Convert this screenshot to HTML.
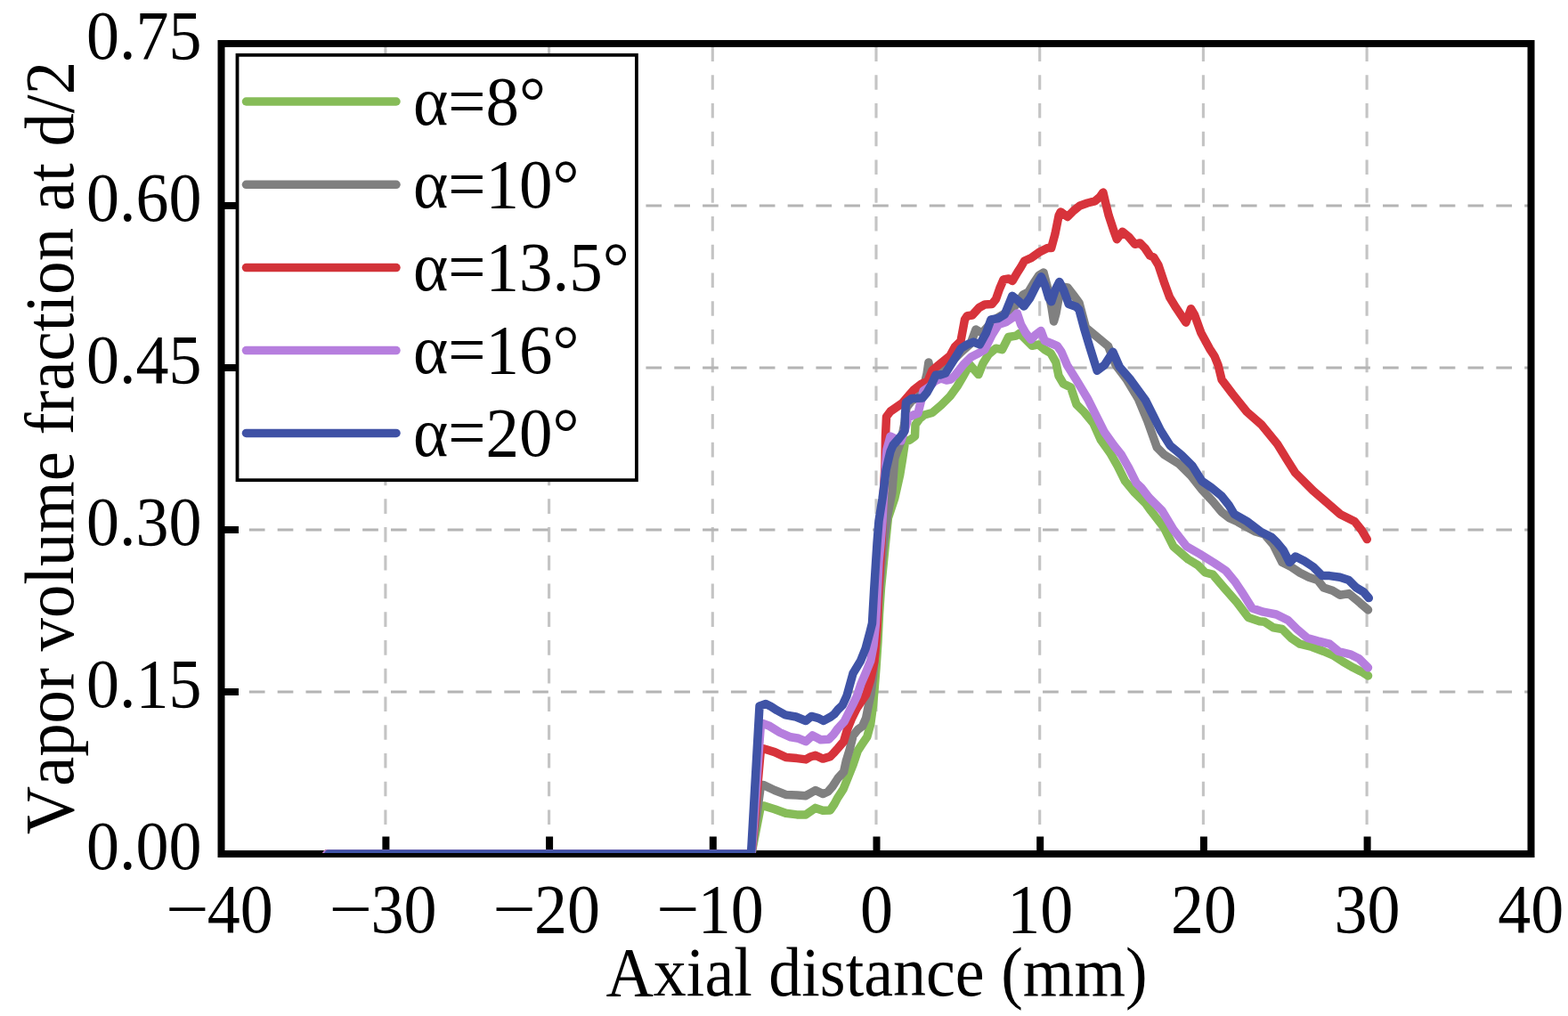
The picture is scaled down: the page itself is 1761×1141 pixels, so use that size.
<!DOCTYPE html>
<html><head><meta charset="utf-8"><title>Vapor volume fraction chart</title>
<style>html,body{margin:0;padding:0;background:#fff;overflow:hidden}svg{display:block}</style>
</head><body>
<svg width="1761" height="1141" viewBox="0 0 1761 1141" style="font-kerning:none">
<rect width="1761" height="1141" fill="#fff"/>
<path d="M432.9 52.5V959M616.6 52.5V959M800.3 52.5V959M984.0 52.5V959M1167.7 52.5V959M1351.4 52.5V959M1535.1 52.5V959" stroke="#c4c4c4" stroke-width="3.1" stroke-dasharray="16.6 15.14" fill="none"/>
<path d="M248 777.0H1719M248 595.0H1719M248 413.0H1719M248 231.0H1719" stroke="#b4b4b4" stroke-width="2.8" stroke-dasharray="17.7 14.13" fill="none"/>
<rect x="248.5" y="49" width="1471" height="910" fill="none" stroke="#000" stroke-width="8"/>
<path d="M433.4 959V939.5M617.1 959V939.5M800.8 959V939.5M984.5 959V939.5M1168.2 959V939.5M1351.9 959V939.5M1535.6 959V939.5M248.5 777.0H268M248.5 595.0H268M248.5 413.0H268M248.5 231.0H268" stroke="#000" stroke-width="8" fill="none"/>
<clipPath id="pc"><rect x="248.5" y="49" width="1471" height="909"/></clipPath>
<g clip-path="url(#pc)"><g fill="none" stroke-width="9.5" stroke-linejoin="round" stroke-linecap="round"><path d="M367.0 959.0 844.0 959.0 854.5 904.9 857.5 904.9 870.0 908.7 882.5 913.3 895.0 914.9 905.0 914.9 915.8 907.4 924.1 910.3 932.4 909.9 937.0 903.0 941.0 895.6 947.0 886.4 952.8 872.0 958.1 858.8 963.4 843.0 968.6 835.2 973.9 827.3 977.8 812.9 980.4 793.0 982.0 775.0 984.0 750.0 986.0 720.0 987.5 690.0 989.5 660.0 991.5 640.0 994.0 615.0 997.4 581.8 1004.8 559.4 1010.8 532.6 1013.7 514.7 1016.5 496.0 1022.0 494.0 1027.5 490.0 1028.0 477.0 1033.0 470.0 1038.0 466.0 1047.0 463.5 1057.0 455.0 1067.0 445.0 1075.0 434.0 1082.0 422.0 1089.0 409.4 1098.9 420.6 1104.0 408.0 1110.1 398.2 1118.5 391.2 1125.5 392.6 1132.6 378.5 1141.0 377.1 1145.2 374.3 1152.2 381.3 1159.2 388.3 1166.2 386.9 1173.2 392.6 1180.2 396.8 1185.8 406.6 1189.0 422.0 1194.3 431.0 1202.6 435.1 1208.9 454.1 1217.3 462.5 1227.8 475.1 1236.3 494.0 1246.8 508.7 1255.2 523.4 1263.6 540.3 1274.1 552.9 1286.7 565.5 1292.6 573.6 1307.3 592.6 1317.8 613.6 1334.7 628.3 1345.2 634.6 1353.6 643.0 1362.0 645.1 1374.6 659.9 1389.3 676.7 1402.0 693.5 1414.6 697.7 1420.0 698.2 1430.0 704.8 1440.0 706.5 1450.0 716.5 1460.0 723.2 1473.3 726.5 1486.6 731.5 1498.2 736.5 1508.2 743.1 1519.9 749.8 1529.9 754.8 1536.5 758.9" stroke="#86bc58"/><path d="M367.0 959.0 844.0 959.0 854.5 881.6 857.5 881.6 870.0 887.5 882.5 892.4 895.0 892.9 905.0 893.7 915.8 887.5 924.1 891.6 930.0 889.0 934.9 883.3 941.0 874.0 947.6 866.7 950.2 854.9 954.2 841.8 958.1 826.0 963.4 819.4 968.6 815.5 972.6 806.3 975.2 793.1 978.0 780.0 980.5 760.0 983.0 730.0 985.0 700.0 987.0 670.0 989.5 640.0 992.5 610.0 996.5 580.0 1001.8 553.5 1004.8 514.7 1012.0 495.0 1016.0 475.0 1018.0 458.0 1024.0 450.0 1032.0 446.0 1037.0 436.0 1041.0 420.0 1042.9 407.0 1045.0 420.0 1047.0 430.0 1055.0 422.0 1065.0 410.0 1080.0 395.0 1090.0 386.0 1096.0 370.0 1103.0 374.0 1112.0 364.0 1120.0 357.0 1130.0 351.0 1137.0 347.0 1143.0 340.0 1149.0 331.0 1155.0 328.0 1161.0 318.0 1167.0 309.0 1172.0 306.0 1176.5 323.0 1181.0 345.0 1183.5 361.0 1186.0 352.0 1188.5 338.0 1192.0 322.0 1199.0 323.0 1206.0 332.0 1212.0 340.0 1219.4 367.8 1232.1 378.4 1244.7 388.9 1253.1 409.9 1265.7 426.7 1278.3 447.7 1288.8 473.0 1299.3 502.4 1307.7 510.8 1324.6 521.3 1337.2 533.9 1350.0 550.0 1362.0 563.0 1372.0 575.0 1381.0 582.0 1390.0 586.0 1398.0 590.5 1410.0 597.0 1420.0 600.0 1430.0 611.6 1440.0 631.6 1450.0 636.6 1460.0 643.3 1470.0 648.3 1479.9 651.6 1486.6 659.9 1496.6 663.2 1504.9 668.2 1514.9 666.6 1524.9 674.9 1536.5 684.9" stroke="#808080"/><path d="M367.0 959.0 844.0 959.0 854.5 840.8 857.5 840.8 870.0 844.6 882.5 850.4 895.0 851.6 905.0 852.9 910.0 850.0 915.8 848.3 924.1 852.1 932.4 849.6 936.0 846.0 941.0 840.4 947.6 832.6 951.5 819.4 956.8 806.3 962.0 795.8 967.3 787.9 972.6 780.0 977.7 763.3 982.0 742.3 984.0 720.0 985.3 700.0 986.5 665.0 988.0 640.0 990.0 610.0 992.0 560.0 994.0 522.0 994.5 490.0 995.5 468.0 1000.0 462.0 1013.0 453.0 1026.0 438.0 1035.0 431.0 1042.0 428.0 1047.0 416.0 1053.6 410.4 1066.8 399.8 1072.3 389.7 1079.0 383.0 1083.5 358.9 1086.3 354.7 1091.9 354.0 1099.6 345.5 1106.0 342.0 1114.0 341.5 1118.5 336.0 1122.7 324.0 1127.0 314.0 1133.0 313.0 1137.0 315.5 1143.0 305.4 1146.5 300.0 1150.5 293.0 1158.2 289.7 1168.0 282.7 1176.5 278.5 1180.7 278.5 1184.9 263.1 1189.1 242.1 1191.2 237.9 1198.9 243.5 1205.9 236.5 1212.9 230.9 1221.3 228.0 1229.7 225.9 1235.4 221.0 1238.9 216.1 1241.7 228.0 1245.2 242.1 1250.8 258.9 1254.3 268.7 1260.6 260.3 1267.6 265.9 1274.6 274.3 1280.2 272.9 1285.8 278.5 1291.5 287.0 1295.7 289.0 1301.0 297.7 1308.0 318.7 1313.7 334.1 1320.7 345.4 1331.9 362.2 1337.5 346.8 1341.7 353.8 1348.7 373.4 1358.5 391.6 1364.0 400.0 1368.1 410.1 1372.1 426.3 1384.2 442.4 1400.3 462.5 1416.4 476.6 1434.6 498.8 1444.6 514.9 1454.7 531.0 1474.8 551.2 1489.0 563.3 1505.1 577.4 1521.2 585.4 1529.3 595.5 1535.3 605.6" stroke="#d7333b"/><path d="M367.0 959.0 844.0 959.0 854.5 812.5 856.6 812.5 863.4 814.9 875.7 822.5 888.0 827.8 897.0 829.3 905.0 832.7 912.5 825.9 921.7 830.8 930.9 830.2 936.0 825.0 941.0 818.1 948.3 810.2 952.8 801.0 958.1 790.5 962.3 782.0 967.0 768.0 972.0 756.3 977.7 742.3 981.0 725.0 983.5 700.0 985.5 660.0 987.0 630.0 989.0 610.0 991.0 585.0 993.0 545.0 996.0 505.0 1000.0 490.0 1008.0 494.0 1012.0 495.0 1017.0 480.0 1020.0 469.0 1026.0 466.0 1031.0 464.0 1033.0 456.0 1035.5 446.0 1037.0 439.0 1037.0 439.0 1043.0 435.0 1050.0 428.0 1057.0 425.0 1063.0 427.0 1068.0 426.0 1073.0 421.0 1082.1 409.4 1090.5 401.0 1098.9 396.8 1105.9 392.6 1114.3 375.7 1121.3 364.5 1129.7 361.7 1138.2 356.1 1142.4 351.9 1146.6 364.5 1152.2 374.3 1157.8 381.3 1163.4 375.7 1169.0 371.5 1173.2 382.7 1180.2 385.5 1187.2 388.3 1192.0 395.0 1198.4 409.9 1208.9 426.7 1221.5 447.7 1232.1 468.8 1240.5 485.6 1251.0 500.3 1259.4 510.8 1267.8 525.5 1276.2 542.4 1282.0 548.0 1290.5 558.9 1305.2 573.6 1317.8 594.7 1332.6 613.6 1347.3 622.0 1364.1 632.5 1376.7 640.9 1387.2 653.5 1395.6 666.2 1406.2 683.0 1418.8 687.2 1433.4 690.0 1446.6 696.5 1456.6 706.5 1468.3 716.5 1479.9 719.8 1493.2 723.2 1503.2 731.5 1516.5 734.8 1526.5 739.8 1536.5 749.8" stroke="#b67ede"/><path d="M369.0 959.0 843.5 959.0 853.0 793.0 860.0 790.5 866.0 793.5 872.5 797.7 882.0 802.9 894.0 805.0 905.0 809.5 911.3 804.4 918.6 806.3 925.0 809.4 933.0 805.0 937.0 802.0 941.0 797.0 946.3 791.8 951.0 781.6 958.0 756.3 966.5 742.3 972.1 728.2 977.0 710.0 979.5 700.0 981.5 665.0 983.5 633.0 985.0 610.0 987.0 585.0 991.0 560.0 993.0 545.0 995.0 528.0 1000.0 507.0 1003.0 500.0 1010.0 492.0 1016.0 484.0 1016.5 465.0 1017.5 452.0 1024.0 447.5 1036.0 447.0 1041.0 441.0 1041.0 441.0 1046.0 432.0 1051.0 421.0 1056.0 421.0 1062.0 419.0 1067.0 411.0 1072.0 403.0 1079.3 391.2 1086.3 386.9 1093.3 384.1 1100.3 386.9 1107.3 374.3 1112.9 358.9 1121.3 357.5 1128.3 353.3 1136.8 332.3 1143.8 337.9 1150.0 344.0 1156.8 334.6 1163.8 320.6 1169.4 310.8 1173.7 320.6 1177.9 334.6 1180.7 338.8 1184.9 326.2 1189.8 316.4 1194.7 326.2 1200.3 341.6 1208.7 344.4 1212.0 348.0 1217.3 367.8 1223.6 388.9 1232.1 416.2 1240.5 409.9 1249.9 395.2 1257.3 412.0 1269.9 426.7 1286.7 449.8 1295.1 466.7 1303.5 483.5 1314.1 500.3 1326.7 510.8 1339.3 523.4 1349.8 540.3 1360.0 547.2 1372.1 557.2 1380.1 567.3 1386.2 577.4 1400.3 585.4 1416.4 597.5 1428.5 603.6 1433.3 608.3 1441.6 618.3 1448.3 631.6 1455.0 625.0 1464.9 630.0 1474.9 636.6 1484.9 646.6 1493.2 646.6 1504.9 648.3 1514.9 651.6 1523.2 659.9 1531.5 664.9 1537.3 671.6" stroke="#3f53a6"/></g></g>
<g font-family="Liberation Serif, serif" font-size="74" fill="#000"><text transform="translate(226.5 976.3) scale(1 1.055)" text-anchor="end">0.00</text><text transform="translate(226.5 794.3) scale(1 1.055)" text-anchor="end">0.15</text><text transform="translate(226.5 612.3) scale(1 1.055)" text-anchor="end">0.30</text><text transform="translate(226.5 430.3) scale(1 1.055)" text-anchor="end">0.45</text><text transform="translate(226.5 248.3) scale(1 1.055)" text-anchor="end">0.60</text><text transform="translate(226.5 66.3) scale(1 1.055)" text-anchor="end">0.75</text><text transform="translate(185.9 1046.5) scale(1.165 1.055)">−</text><text transform="translate(232.7 1046.5) scale(1 1.055)">40</text><text transform="translate(369.6 1046.5) scale(1.165 1.055)">−</text><text transform="translate(416.4 1046.5) scale(1 1.055)">30</text><text transform="translate(553.3 1046.5) scale(1.165 1.055)">−</text><text transform="translate(600.1 1046.5) scale(1 1.055)">20</text><text transform="translate(737.0 1046.5) scale(1.165 1.055)">−</text><text transform="translate(783.8 1046.5) scale(1 1.055)">10</text><text transform="translate(984.5 1046.5) scale(1 1.055)" text-anchor="middle">0</text><text transform="translate(1168.2 1046.5) scale(1 1.055)" text-anchor="middle">10</text><text transform="translate(1351.9 1046.5) scale(1 1.055)" text-anchor="middle">20</text><text transform="translate(1535.6 1046.5) scale(1 1.055)" text-anchor="middle">30</text><text transform="translate(1719.3 1046.5) scale(1 1.055)" text-anchor="middle">40</text></g>
<text font-family="Liberation Serif, serif" font-size="74" transform="translate(984.5 1118) scale(1 1.055)" text-anchor="middle">Axial distance (mm)</text>
<text font-family="Liberation Serif, serif" font-size="74.8" transform="translate(82 503) rotate(-90) scale(1 1.04)" text-anchor="middle">Vapor volume fraction at d/2</text>
<rect x="266.5" y="61.8" width="448.4" height="477.4" fill="#fff" stroke="#000" stroke-width="3.8"/>
<path d="M276.5 114H445" stroke="#86bc58" stroke-width="9.5" stroke-linecap="round"/>
<text font-family="Liberation Serif, serif" font-size="75" transform="translate(464 139.5) scale(1 1.055)">α=8°</text>
<path d="M276.5 207.3H445" stroke="#7f7f7f" stroke-width="9.5" stroke-linecap="round"/>
<text font-family="Liberation Serif, serif" font-size="75" transform="translate(464 232.8) scale(1 1.055)">α=10°</text>
<path d="M276.5 300.6H445" stroke="#d23339" stroke-width="9.5" stroke-linecap="round"/>
<text font-family="Liberation Serif, serif" font-size="75" transform="translate(464 326.1) scale(1 1.055)">α=13.5°</text>
<path d="M276.5 393.6H445" stroke="#b67ede" stroke-width="9.5" stroke-linecap="round"/>
<text font-family="Liberation Serif, serif" font-size="75" transform="translate(464 419.1) scale(1 1.055)">α=16°</text>
<path d="M276.5 486.4H445" stroke="#3f51a5" stroke-width="9.5" stroke-linecap="round"/>
<text font-family="Liberation Serif, serif" font-size="75" transform="translate(464 511.9) scale(1 1.055)">α=20°</text>
</svg>
</body></html>
